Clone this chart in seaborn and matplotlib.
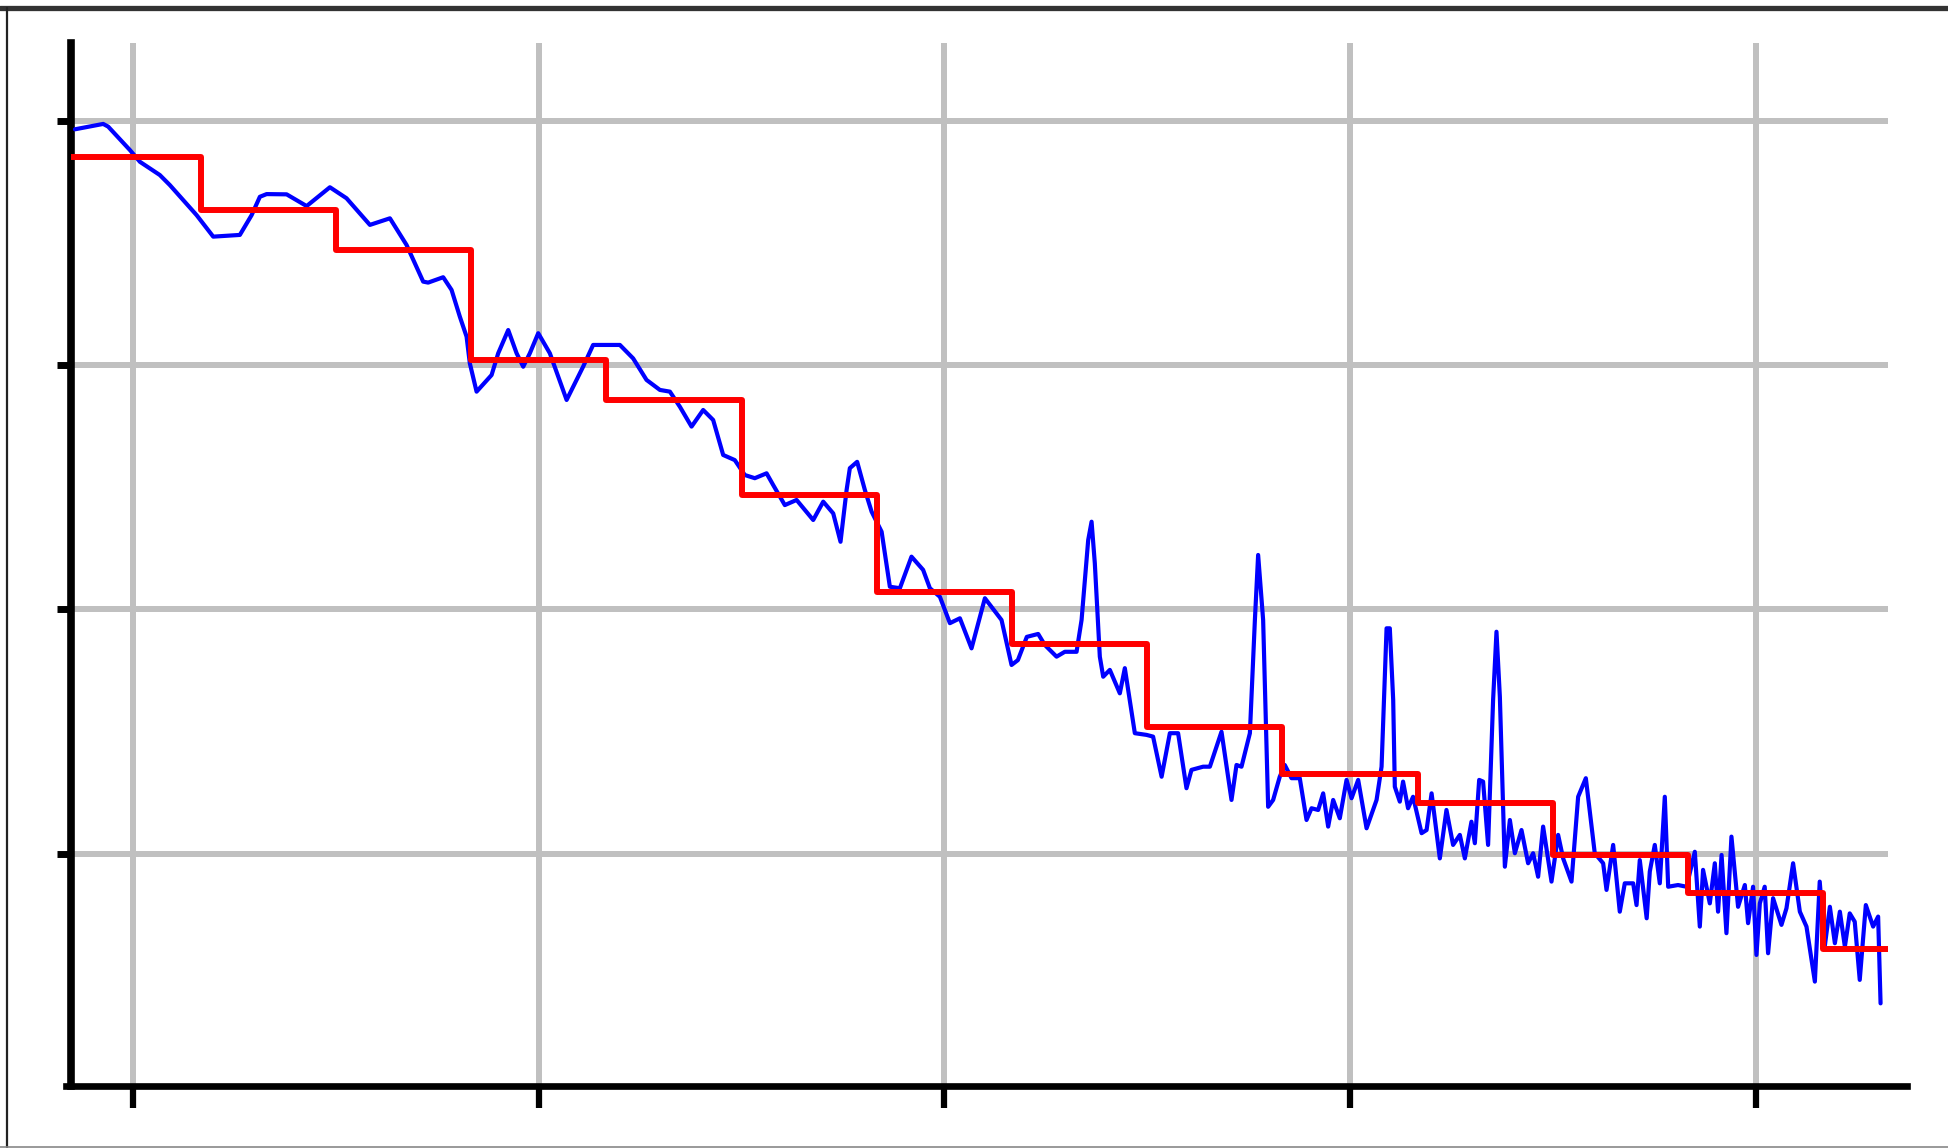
import matplotlib
matplotlib.use("Agg")
import matplotlib.pyplot as plt
from matplotlib.lines import Line2D
import seaborn as sns
import pandas as pd

# ---- data ----
blue_x = [-0.431, -0.222, -0.185, -0.024, 0.050, 0.197, 0.271, 0.469, 0.592, 0.789,
          0.876, 0.937, 0.987, 1.135, 1.283, 1.455, 1.578, 1.751, 1.899, 2.022,
          2.145, 2.182, 2.293, 2.355, 2.416, 2.466, 2.490, 2.540, 2.651, 2.700,
          2.774, 2.836, 2.885, 2.934, 2.996, 3.082, 3.206, 3.328, 3.402, 3.600,
          3.698, 3.797, 3.896, 3.970, 4.044, 4.130, 4.216, 4.290, 4.364, 4.450,
          4.524, 4.598, 4.685, 4.734, 4.820, 4.907, 5.030, 5.104, 5.178, 5.232,
          5.277, 5.301, 5.355, 5.412, 5.462, 5.536, 5.597, 5.671, 5.757, 5.843,
          5.893, 5.967, 6.041, 6.115, 6.201, 6.300, 6.423, 6.497, 6.544, 6.610,
          6.694, 6.743, 6.830, 6.891, 6.978, 7.015, 7.064, 7.089, 7.113, 7.150,
          7.175, 7.224, 7.298, 7.335, 7.409, 7.496, 7.544, 7.607, 7.668, 7.729,
          7.791, 7.828, 7.914, 7.964, 8.050, 8.124, 8.161, 8.198, 8.260, 8.297,
          8.321, 8.358, 8.395, 8.432, 8.481, 8.518, 8.568, 8.629, 8.679, 8.716,
          8.765, 8.802, 8.839, 8.876, 8.925, 8.975, 9.012, 9.061, 9.123, 9.197,
          9.234, 9.271, 9.295, 9.320, 9.332, 9.369, 9.393, 9.430, 9.467, 9.530,
          9.567, 9.604, 9.665, 9.714, 9.763, 9.813, 9.850, 9.899, 9.924, 9.956,
          9.985, 10.022, 10.059, 10.084, 10.109, 10.146, 10.183, 10.220, 10.269, 10.318,
          10.355, 10.392, 10.429, 10.491, 10.540, 10.577, 10.639, 10.688, 10.745, 10.811,
          10.873, 10.898, 10.947, 10.996, 11.033, 11.095, 11.120, 11.144, 11.195, 11.218,
          11.255, 11.292, 11.329, 11.354, 11.427, 11.490, 11.551, 11.588, 11.612, 11.662,
          11.699, 11.723, 11.749, 11.785, 11.822, 11.871, 11.921, 11.945, 11.982, 12.007,
          12.032, 12.068, 12.093, 12.130, 12.192, 12.229, 12.278, 12.328, 12.377, 12.439,
          12.475, 12.512, 12.550, 12.587, 12.624, 12.661, 12.697, 12.734, 12.771, 12.816,
          12.870, 12.907, 12.925]

blue_y = [3.964, 3.986, 3.975, 3.879, 3.831, 3.777, 3.736, 3.613, 3.525, 3.532,
          3.613, 3.688, 3.699, 3.698, 3.650, 3.727, 3.682, 3.573, 3.600, 3.491,
          3.341, 3.337, 3.359, 3.307, 3.198, 3.116, 3.007, 2.891, 2.959, 3.048,
          3.143, 3.048, 2.993, 3.048, 3.130, 3.048, 2.857, 2.993, 3.082, 3.082,
          3.027, 2.939, 2.898, 2.891, 2.829, 2.748, 2.816, 2.775, 2.632, 2.611,
          2.550, 2.537, 2.557, 2.509, 2.427, 2.448, 2.366, 2.441, 2.393, 2.277,
          2.489, 2.578, 2.604, 2.489, 2.400, 2.318, 2.093, 2.087, 2.216, 2.162,
          2.087, 2.052, 1.944, 1.964, 1.841, 2.046, 1.957, 1.773, 1.793, 1.888,
          1.900, 1.855, 1.807, 1.827, 1.827, 1.957, 2.284, 2.359, 2.189, 1.807,
          1.725, 1.753, 1.657, 1.760, 1.494, 1.487, 1.480, 1.316, 1.494, 1.494,
          1.269, 1.344, 1.357, 1.357, 1.500, 1.221, 1.364, 1.357, 1.494, 1.957,
          2.223, 1.957, 1.193, 1.221, 1.316, 1.364, 1.310, 1.310, 1.139, 1.187,
          1.180, 1.248, 1.112, 1.221, 1.146, 1.303, 1.228, 1.303, 1.105, 1.221,
          1.357, 1.923, 1.923, 1.630, 1.275, 1.214, 1.296, 1.187, 1.234, 1.085,
          1.098, 1.248, 0.982, 1.180, 1.037, 1.078, 0.982, 1.132, 1.044, 1.303,
          1.296, 1.037, 1.630, 1.909, 1.643, 0.948, 1.139, 1.003, 1.098, 0.962,
          1.003, 0.907, 1.112, 0.887, 1.078, 0.982, 0.887, 1.234, 1.310, 1.003,
          0.962, 0.853, 1.037, 0.764, 0.880, 0.880, 0.791, 0.975, 0.737, 0.928,
          1.037, 0.880, 1.234, 0.866, 0.873, 0.866, 1.009, 0.703, 0.935, 0.798,
          0.962, 0.764, 0.996, 0.676, 1.071, 0.784, 0.873, 0.717, 0.866, 0.587,
          0.798, 0.866, 0.594, 0.819, 0.710, 0.778, 0.962, 0.764, 0.703, 0.478,
          0.887, 0.621, 0.784, 0.635, 0.764, 0.621, 0.757, 0.723, 0.485, 0.791,
          0.703, 0.744, 0.389]

period_start = [-0.5, 0.5, 1.5, 2.5, 3.5, 4.5, 5.5, 6.5, 7.5, 8.5, 9.5, 10.5, 11.5, 12.5]
period_end_last = 13.0
period_mean = [3.851, 3.634, 3.472, 3.022, 2.855, 2.468, 2.070, 1.857,
               1.519, 1.329, 1.207, 0.994, 0.840, 0.610]

x_ticks = [0, 3, 6, 9, 12]
y_ticks = [1, 2, 3, 4]

# ---- figure ----
sns.set_style("white")
W, H = 1948, 1148
fig = plt.figure(figsize=(W / 100, H / 100), dpi=100)
ax = fig.add_axes([71 / W, 1 - 1086 / H, (1888 - 71) / W, (1086 - 43) / H])

df_blue = pd.DataFrame({"x": blue_x, "y": blue_y})
sns.lineplot(data=df_blue, x="x", y="y", color="#0000ff", lw=3.0, sort=False,
             ax=ax, zorder=3, solid_joinstyle="round")

df_red = pd.DataFrame({"x": period_start + [period_end_last],
                       "y": period_mean + [period_mean[-1]]})
sns.lineplot(data=df_red, x="x", y="y", color="#ff0000", lw=4.3, sort=False,
             drawstyle="steps-post", ax=ax, zorder=4)

ax.set_xlim(-0.46, 12.98)
ax.set_ylim(0.051, 4.317)
ax.set_xticks(x_ticks)
ax.set_yticks(y_ticks)
ax.set_xlabel("")
ax.set_ylabel("")
ax.grid(True, color="#c0c0c0", lw=4.3)
ax.set_axisbelow(True)

for s in ["top", "right"]:
    ax.spines[s].set_visible(False)
for s in ["left", "bottom"]:
    ax.spines[s].set_color("black")
ax.spines["left"].set_linewidth(5.5)
ax.spines["bottom"].set_linewidth(4.8)
ax.spines["bottom"].set_bounds(-0.5, 13.12)

ax.tick_params(axis="x", which="major", bottom=True, direction="out", length=16,
               width=4.5, color="black", labelbottom=False)
ax.tick_params(axis="y", which="major", left=True, direction="out", length=10,
               width=5.0, color="black", labelleft=False)

# figure frame
fig.add_artist(Line2D([0, 1], [1 - 7.5 / H, 1 - 7.5 / H], transform=fig.transFigure,
                      color="#333333", lw=3.8))
fig.add_artist(Line2D([7 / W, 7 / W], [0, 1 - 7.5 / H], transform=fig.transFigure,
                      color="#222222", lw=1.6))
fig.add_artist(Line2D([0, 1], [1.2 / H, 1.2 / H], transform=fig.transFigure,
                      color="#888888", lw=1.2))

fig.savefig("out.png", dpi=100)
